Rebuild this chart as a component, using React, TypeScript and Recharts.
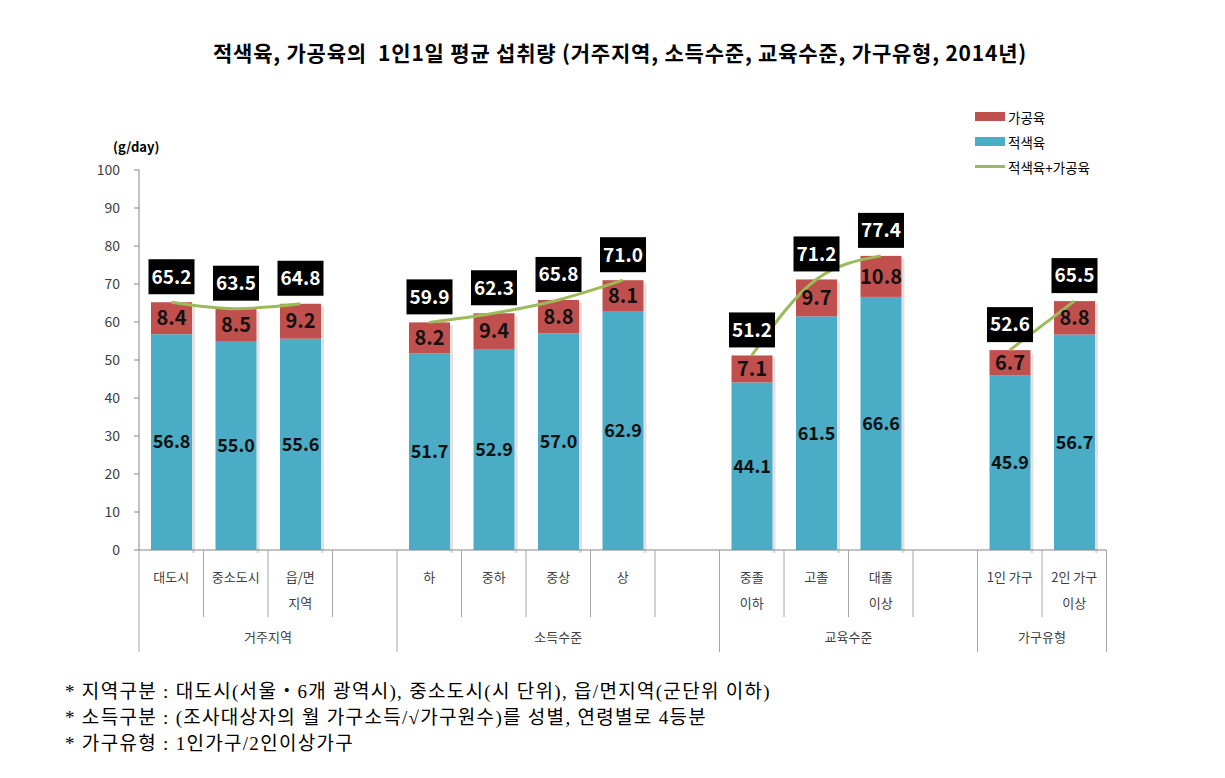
import React from 'react'
import { ComposedChart, Bar, Line, XAxis, YAxis, LabelList } from 'recharts'

const categories = [
  '대도시', '중소도시', '읍/면\n지역', '',
  '하', '중하', '중상', '상', '',
  '중졸\n이하', '고졸', '대졸\n이상', '',
  '1인 가구', '2인 가구\n이상',
]
const redMeat = [56.8, 55.0, 55.6, null, 51.7, 52.9, 57.0, 62.9, null, 44.1, 61.5, 66.6, null, 45.9, 56.7]
const processedMeat = [8.4, 8.5, 9.2, null, 8.2, 9.4, 8.8, 8.1, null, 7.1, 9.7, 10.8, null, 6.7, 8.8]
const totals = [65.2, 63.5, 64.8, null, 59.9, 62.3, 65.8, 71.0, null, 51.2, 71.2, 77.4, null, 52.6, 65.5]
const groups = [
  { name: '거주지역', from: 0, to: 3 },
  { name: '소득수준', from: 4, to: 8 },
  { name: '교육수준', from: 9, to: 12 },
  { name: '가구유형', from: 13, to: 14 },
]
const yTicks = [0, 10, 20, 30, 40, 50, 60, 70, 80, 90, 100]
const notes = [
  '* 지역구분 : 대도시(서울・6개 광역시), 중소도시(시 단위), 읍/면지역(군단위 이하)',
  '* 소득구분 : (조사대상자의 월 가구소득/√가구원수)를 성별, 연령별로 4등분',
  '* 가구유형 : 1인가구/2인이상가구',
]

const BLUE = '#4BACC6'
const RED = '#C0504D'
const GREEN = '#9BBB59'
const FONT = '"Noto Sans CJK KR", "Noto Sans", sans-serif'

// layout
const W = 1209
const H = 760
const PLOT_LEFT = 131
const PLOT_RIGHT = 1098.5
const SLOT = (PLOT_RIGHT - PLOT_LEFT) / categories.length

const data = categories.map((name, i) => {
  const row: Record<string, any> = {
    id: i,
    name,
    red: redMeat[i],
    processed: processedMeat[i],
    total: totals[i],
  }
  groups.forEach((g, gi) => {
    row['g' + gi] = i >= g.from && i <= g.to ? totals[i] : null
  })
  return row
})

function CategoryTick(props: any) {
  const { x, y, payload } = props
  const i = payload.index ?? payload.value
  const left = x - SLOT / 2
  const group = groups.find((g) => g.from === i)
  const lines = categories[i].split('\n')
  return (
    <g>
      <line x1={left} x2={left} y1={y} y2={y + (group ? 102 : 67)} stroke="#a6a6a6" />
      {i === categories.length - 1 && (
        <line x1={x + SLOT / 2} x2={x + SLOT / 2} y1={y} y2={y + 102} stroke="#a6a6a6" />
      )}
      {lines.map((t, k) => (
        <text key={k} x={x} y={y + 32 + k * 26} textAnchor="middle" fontSize={13} fill="#404040" fontFamily={FONT}>
          {t}
        </text>
      ))}
      {group && (
        <text
          x={left + ((group.to - group.from + 1) * SLOT) / 2}
          y={y + 92}
          textAnchor="middle"
          fontSize={13}
          fill="#404040"
          fontFamily={FONT}
        >
          {group.name}
        </text>
      )}
    </g>
  )
}

function ShadowBar(props: any) {
  const { x, y, width, height, fill } = props
  if (!height || height <= 0) return null
  return (
    <g>
      <rect x={x + width} y={y + 3} width={3} height={height} fill="#000" opacity={0.12} />
      <rect x={x} y={y} width={width} height={height} fill={fill} />
    </g>
  )
}

function TotalLabel(props: any) {
  const { x, y, width, value } = props
  if (value == null) return null
  const cx = x + width / 2
  const bh = 35
  return (
    <g>
      <rect x={cx - 23} y={y - 8 - bh} width={46} height={bh} fill="#000" />
      <text
        x={cx}
        y={y - 8 - bh / 2}
        dy="0.36em"
        textAnchor="middle"
        fill="#fff"
        fontWeight={700}
        fontSize={19}
        fontFamily={FONT}
      >
        {Number(value).toFixed(1)}
      </text>
    </g>
  )
}

const fmt = (v: any) => (v == null ? '' : Number(v).toFixed(1))

export default function App() {
  return (
    <div style={{ position: 'relative', width: W, height: H, fontFamily: FONT }}>
      <div
        style={{
          position: 'absolute',
          left: 0,
          top: 29,
          width: 1224,
          textAlign: 'center',
          fontSize: 21,
          letterSpacing: 0.8,
          fontWeight: 700,
          color: '#000',
          whiteSpace: 'pre',
        }}
      >
        {'적색육, 가공육의  1인1일 평균 섭취량 (거주지역, 소득수준, 교육수준, 가구유형, 2014년)'}
      </div>
      <div style={{ position: 'absolute', left: 105, top: 129, fontSize: 13, fontWeight: 700, color: '#000' }}>
        (g/day)
      </div>

      <ComposedChart
        width={W}
        height={H}
        data={data}
        margin={{ top: 162, right: W - PLOT_RIGHT, bottom: 108, left: 0 }}
      >
        <YAxis
          width={PLOT_LEFT}
          domain={[0, 100]}
          ticks={yTicks}
          tickSize={5}
          tickMargin={14}
          interval={0}
          axisLine={{ stroke: '#868686' }}
          tickLine={{ stroke: '#868686' }}
          tick={{ fontSize: 14, fill: '#404040', fontFamily: FONT }}
        />
        <XAxis
          dataKey="id"
          type="category"
          height={110}
          interval={0}
          tickSize={0}
          tickMargin={0}
          tickLine={false}
          axisLine={{ stroke: '#868686' }}
          tick={<CategoryTick />}
        />
        <Bar dataKey="red" stackId="a" fill={BLUE} barSize={41} shape={<ShadowBar />} isAnimationActive={false}>
          <LabelList
            dataKey="red"
            position="center"
            formatter={fmt}
            fill="#111"
            fontSize={18}
            fontWeight={700}
            fontFamily={FONT}
          />
        </Bar>
        <Bar dataKey="processed" stackId="a" fill={RED} barSize={41} shape={<ShadowBar />} isAnimationActive={false}>
          <LabelList
            dataKey="processed"
            position="center"
            formatter={fmt}
            fill="#111"
            fontSize={20}
            fontWeight={700}
            fontFamily={FONT}
          />
          <LabelList dataKey="total" content={<TotalLabel />} />
        </Bar>
        {groups.map((g, gi) => (
          <Line
            key={g.name}
            dataKey={'g' + gi}
            type="monotone"
            stroke={GREEN}
            strokeWidth={3}
            dot={false}
            activeDot={false}
            isAnimationActive={false}
          />
        ))}
      </ComposedChart>

      {/* legend */}
      <div style={{ position: 'absolute', left: 967, top: 96, fontSize: 13.5, color: '#000' }}>
        {[
          { label: '가공육', kind: 'box', color: RED },
          { label: '적색육', kind: 'box', color: BLUE },
          { label: '적색육+가공육', kind: 'line', color: GREEN },
        ].map((it) => (
          <div key={it.label} style={{ display: 'flex', alignItems: 'center', height: 25 }}>
            <span
              style={{
                display: 'inline-block',
                width: 30,
                height: it.kind === 'box' ? 9 : 3,
                background: it.color,
                marginRight: 3,
              }}
            />
            {it.label}
          </div>
        ))}
      </div>

      {/* footnotes */}
      <div
        style={{
          position: 'absolute',
          left: 57,
          top: 671,
          fontFamily: '"Liberation Serif", "Noto Sans CJK KR", serif',
          fontSize: 19,
          letterSpacing: 1.3,
          lineHeight: '26px',
          color: '#000',
          whiteSpace: 'pre',
        }}
      >
        {notes.map((n) => (
          <div key={n}>{n}</div>
        ))}
      </div>
    </div>
  )
}
